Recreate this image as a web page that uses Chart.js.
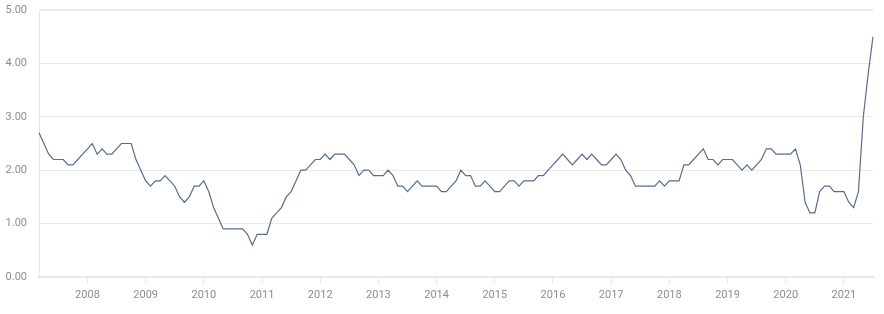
<!DOCTYPE html>
<html>
<head>
<meta charset="utf-8">
<script src="https://cdn.jsdelivr.net/npm/chart.js@4/dist/chart.umd.min.js"></script>
<style>
  html, body { margin: 0; padding: 0; background: #fff; }
  .wrap { position: relative; width: 884px; height: 314px; }
</style>
</head>
<body>
<div class="wrap"><canvas id="lineChart"></canvas></div>
<script>
/* ── Data: monthly values, Mar 2007 – Jul 2021 ── */
const startYear  = 2007;
const startMonth = 3;
const yTicks     = [0, 1, 2, 3, 4, 5];

const values = [
  2.7, 2.5, 2.3, 2.2, 2.2, 2.2, 2.1, 2.1, 2.2, 2.3,                // 2007
  2.4, 2.5, 2.3, 2.4, 2.3, 2.3, 2.4, 2.5, 2.5, 2.5, 2.2, 2.0,      // 2008
  1.8, 1.7, 1.8, 1.8, 1.9, 1.8, 1.7, 1.5, 1.4, 1.5, 1.7, 1.7,      // 2009
  1.8, 1.6, 1.3, 1.1, 0.9, 0.9, 0.9, 0.9, 0.9, 0.8, 0.6, 0.8,      // 2010
  0.8, 0.8, 1.1, 1.2, 1.3, 1.5, 1.6, 1.8, 2.0, 2.0, 2.1, 2.2,      // 2011
  2.2, 2.3, 2.2, 2.3, 2.3, 2.3, 2.2, 2.1, 1.9, 2.0, 2.0, 1.9,      // 2012
  1.9, 1.9, 2.0, 1.9, 1.7, 1.7, 1.6, 1.7, 1.8, 1.7, 1.7, 1.7,      // 2013
  1.7, 1.6, 1.6, 1.7, 1.8, 2.0, 1.9, 1.9, 1.7, 1.7, 1.8, 1.7,      // 2014
  1.6, 1.6, 1.7, 1.8, 1.8, 1.7, 1.8, 1.8, 1.8, 1.9, 1.9, 2.0,      // 2015
  2.1, 2.2, 2.3, 2.2, 2.1, 2.2, 2.3, 2.2, 2.3, 2.2, 2.1, 2.1,      // 2016
  2.2, 2.3, 2.2, 2.0, 1.9, 1.7, 1.7, 1.7, 1.7, 1.7, 1.8, 1.7,      // 2017
  1.8, 1.8, 1.8, 2.1, 2.1, 2.2, 2.3, 2.4, 2.2, 2.2, 2.1, 2.2,      // 2018
  2.2, 2.2, 2.1, 2.0, 2.1, 2.0, 2.1, 2.2, 2.4, 2.4, 2.3, 2.3,      // 2019
  2.3, 2.3, 2.4, 2.1, 1.4, 1.2, 1.2, 1.6, 1.7, 1.7, 1.6, 1.6,      // 2020
  1.6, 1.4, 1.3, 1.6, 3.0, 3.8, 4.5                                 // 2021
];

const labels = values.map((_, i) => {
  const m = startMonth - 1 + i;
  const y = startYear + Math.floor(m / 12);
  return y + '-' + String(m % 12 + 1).padStart(2, '0');
});

/* ── Styles ── */
const LINE  = '#586c90';
const GRID  = '#e8e8e8';
const TEXT  = '#8d8d8d';
const FONT  = { family: 'Roboto', size: 11 };

document.addEventListener('DOMContentLoaded', () => {
  initLineChart();
});

function initLineChart() {
  const ctx = document.getElementById('lineChart');
  new Chart(ctx, {
    type: 'line',
    data: {
      labels: labels,
      datasets: [{
        data: values,
        borderColor: LINE,
        borderWidth: 1.2,
        pointRadius: 0,
        tension: 0,
        fill: false,
      }],
    },
    options: {
      responsive: true, maintainAspectRatio: false,
      animation: false,
      layout: { padding: { top: 10, right: 11, left: 0, bottom: 0 } },
      plugins: { legend: { display: false }, tooltip: { enabled: false } },
      scales: {
        x: {
          type: 'category',
          offset: false,
          border: { display: true, color: GRID, width: 2 },
          grid: {
            drawOnChartArea: false,
            drawTicks: true,
            tickLength: 7,
            color: GRID,
            tickColor: GRID,
          },
          ticks: {
            autoSkip: false,
            maxRotation: 0,
            padding: 5,
            color: TEXT,
            font: FONT,
            callback: (v, i) => labels[i].endsWith('-01') ? labels[i].slice(0, 4) : null,
          },
          afterFit: s => { s.height = 37; },
        },
        y: {
          min: 0, max: 5,
          border: { display: true, color: GRID, width: 1 },
          grid: {
            color: GRID,
            lineWidth: c => (c.tick && (c.tick.value === 0 || c.tick.value === 5)) ? 2 : 1,
            drawTicks: true,
            tickLength: 9,
            tickColor: 'rgba(0,0,0,0)',
          },
          afterBuildTicks: s => { s.ticks = yTicks.map(v => ({ value: v })); },
          ticks: {
            padding: 3,
            color: TEXT,
            font: FONT,
            callback: v => Number(v).toFixed(2),
          },
          afterFit: s => { s.width = 39; },
        },
      },
    },
  });
}
</script>
</body>
</html>
